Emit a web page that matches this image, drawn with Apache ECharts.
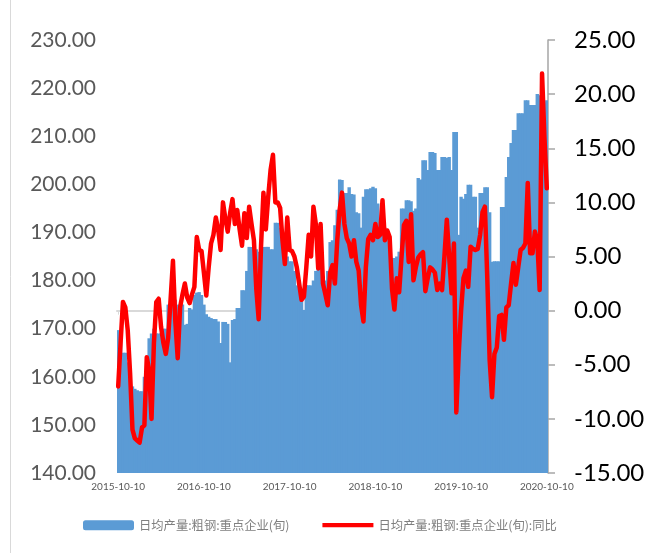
<!DOCTYPE html>
<html>
<head>
<meta charset="utf-8">
<script src="https://cdn.jsdelivr.net/npm/echarts@6/dist/echarts.min.js"></script>
<style>
html,body{margin:0;padding:0;background:#fff;}
#main{width:655px;height:553px;}
</style>
</head>
<body>
<div id="main"></div>
<script>
// Categories: dekadal dates from 2015-10-10 to 2020-10-10
const categories = [];
(function(){
  for (let y = 2015; y <= 2020; y++) {
    for (let m = 1; m <= 12; m++) {
      const mm = String(m).padStart(2,'0');
      const last = new Date(y, m, 0).getDate();
      [10, 20, last].forEach(d => {
        const s = y + '-' + mm + '-' + String(d).padStart(2,'0');
        if (s >= '2015-10-10' && s <= '2020-10-10') categories.push(s);
      });
    }
  }
})();

const seriesNames = ['日均产量:粗钢:重点企业(旬)', '日均产量:粗钢:重点企业(旬):同比'];

const outputValues = [
169.7,168,165,165,163,160.8,158,157.5,157.2,157,157,160,164,168,169,170,169,169,169,170,
170,175,175,175,176,175,175,175,170.8,171,174.3,174,177,177.5,177.6,177,175,173,172.5,172.2,
172,172,171.5,167,171.4,171.4,171,163,171.8,172,174.3,174.3,178,178,182,187,187,186.5,186.5,186,
186,187,187,187,186.5,186.5,192,192,191,190,188,185,184,184,182,179,178,177,173.9,179,
179,179,180,182,183,183,181,180,182,188,188.4,191.5,194.7,201,200.9,198.2,198.2,199.4,198,197.9,
194.2,194,191,197.4,199,199,199.2,199.5,199.2,196,192,191,191,190,186,184.7,184.7,185,186,195,
195,196.7,196.7,196.5,194.5,195,201.3,201,205,205,203,206.7,206.7,206.5,203,203,205.7,205.7,205.5,205.7,
203,210.9,210.9,189.5,197.4,197,198,199.9,199.9,197.4,197.4,191,198.2,198.2,199.4,199.4,194.2,183.9,184,184,
184,195.3,195.3,201.5,205.7,208.6,211.3,211.3,214.8,214.8,214.8,217.5,217.5,216.5,216.5,216.5,218.8,218.5,217,217,
217.5
];

const yoyValues = [
-7,-3,0.8,0.3,-1.8,-5.8,-11,-11.8,-12,-12.2,-10.8,-10.6,-4.3,-5.5,-10,-3,0.8,1.1,-1.5,-3,
-4,-2.5,1,4.6,-1,-4.4,0.3,1.5,2.5,1.2,0.7,1.5,2.2,6.8,5.6,5.5,3.5,1.4,4,6.2,
7,8.6,7.5,5.6,10,8.5,7.3,9,10.3,8,9.3,7.5,6,9,6.7,9.6,8,6.5,2,-0.8,
6,10.9,7.5,10.5,13,14.4,10,10,9.5,6.5,4.3,8.6,5.6,5.5,5,4,2.5,1,1.3,4,
7,5,9.6,8,3.9,8,2.5,1.5,0.5,3.5,4.2,2.5,6.5,9.3,10.9,8,6.7,6.2,5,6.5,
4.5,3.7,0.5,-1,4,6.6,7,6.5,8,6.8,7,10.2,6.5,7.4,6.8,2,0.1,3,1.7,5,
7.9,8.3,4.5,8.9,2.8,4,4.9,5.2,5.4,1.8,3,4,3.8,3.5,1.9,2.5,1.9,5,8.4,5,
1.6,6.2,-9.4,-4,0,3,3.7,2.2,5.9,5.7,5.6,5.7,7,9.1,9.6,3,-4.6,-8,-4,-3.4,
-0.5,-0.4,-2.7,0.3,0.5,2.5,4.4,2.4,4,5.6,5.8,6.2,11.8,5.3,5.3,7.3,6.5,1.9,21.9,16,
11.3
];

const leftTicks = {min: 140, max: 230, interval: 10};
const rightTicks = {min: -15, max: 25, interval: 5};

const isYearTick = (i, v) => /-10-10$/.test(v);

const chart = echarts.init(document.getElementById('main'), null, {renderer: 'canvas'});
chart.setOption({
  animation: false,
  backgroundColor: '#fff',
  textStyle: {fontFamily: 'Lato, "Noto Sans CJK SC", sans-serif'},
  graphic: [{
    type: 'line', silent: true,
    shape: {x1: 10.5, y1: 0, x2: 10.5, y2: 553},
    style: {stroke: '#D9D9D9', lineWidth: 1}
  }],
  grid: {left: 117, right: 107, top: 40, bottom: 80, containLabel: false},
  legend: {
    left: 83, top: 519, padding: 0,
    itemWidth: 51, itemHeight: 10, itemGap: 33,
    textStyle: {color: '#7f7f7f', fontSize: 12.3, fontFamily: '"Noto Sans CJK SC", sans-serif'},
    data: [
      {name: seriesNames[0], icon: 'roundRect'},
      {name: seriesNames[1], icon: 'path://M0,0 L50,0 L50,4 L0,4 Z'}
    ]
  },
  xAxis: {
    type: 'category',
    data: categories,
    boundaryGap: true,
    axisLine: {show: true, lineStyle: {color: '#D9D9D9', width: 2}},
    axisTick: {show: true, alignWithLabel: true, interval: isYearTick, length: 4, lineStyle: {color: '#D9D9D9'}},
    axisLabel: {interval: isYearTick, color: '#595959', fontSize: 10, margin: 9},
    splitLine: {show: false}
  },
  yAxis: [
    {
      type: 'value', position: 'left',
      min: leftTicks.min, max: leftTicks.max, interval: leftTicks.interval,
      axisLine: {show: false}, axisTick: {show: false}, splitLine: {show: false},
      axisLabel: {color: '#595959', fontSize: 21, margin: 21, formatter: v => v.toFixed(2)}
    },
    {
      type: 'value', position: 'right',
      min: rightTicks.min, max: rightTicks.max, interval: rightTicks.interval,
      axisLine: {show: true, lineStyle: {color: '#A6A6A6', width: 1.5}},
      axisTick: {show: true, length: 7, lineStyle: {color: '#A6A6A6', width: 1.5}},
      splitLine: {show: false},
      axisLabel: {color: '#000', fontSize: 24, margin: 26, formatter: v => v.toFixed(2)}
    }
  ],
  series: [
    {
      name: seriesNames[0], type: 'bar', yAxisIndex: 0,
      data: outputValues, barWidth: 3.4,
      itemStyle: {color: '#5B9BD5'}
    },
    {
      name: seriesNames[1], type: 'line', yAxisIndex: 1,
      data: yoyValues, symbol: 'none', showSymbol: false,
      lineStyle: {color: '#FF0000', width: 4.5, join: 'round', cap: 'round'},
      itemStyle: {color: '#FF0000'}
    }
  ]
});
</script>
</body>
</html>
